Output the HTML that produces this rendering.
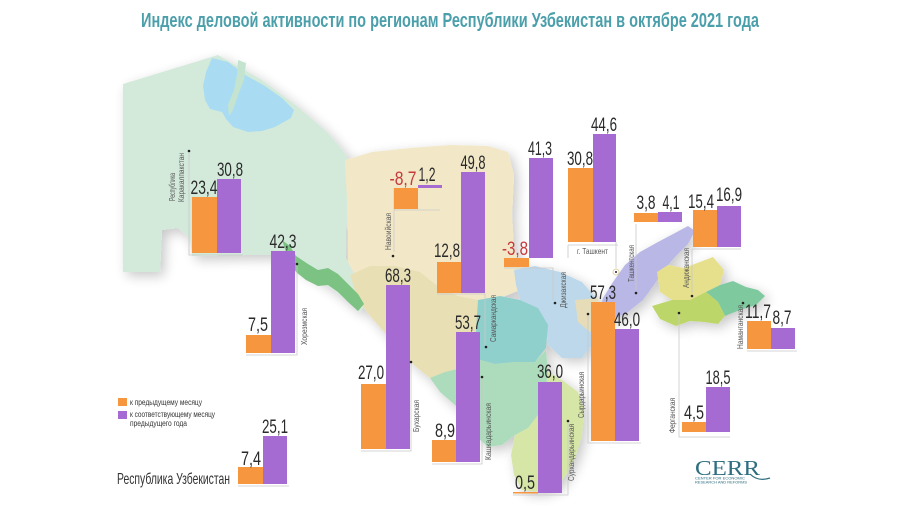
<!DOCTYPE html>
<html><head><meta charset="utf-8"><style>
html,body{margin:0;padding:0;background:#fff;}
svg{display:block;}
text{font-family:"Liberation Sans Narrow","Liberation Sans",sans-serif;}
.o{fill:#f6963f}.p{fill:#a66bd2}
.n{font-size:19px;fill:#2a2a2a;text-anchor:middle}
.r{fill:#c8393b}
.v{font-size:8.5px;fill:#555}
.ln{stroke:#c9c9c9;stroke-width:0.8;fill:none}
.d{fill:#222}
</style></head><body>
<svg width="900" height="506" viewBox="0 0 900 506" xmlns="http://www.w3.org/2000/svg">
<defs>
<filter id="sh" x="-10%" y="-10%" width="120%" height="120%">
<feGaussianBlur in="SourceAlpha" stdDeviation="6"/>
<feOffset dx="4" dy="4"/>
<feComponentTransfer><feFuncA type="linear" slope="0.22"/></feComponentTransfer>
<feMerge><feMergeNode/><feMergeNode in="SourceGraphic"/></feMerge>
</filter>
</defs>
<rect width="900" height="506" fill="#fff"/>
<text x="450" y="27" text-anchor="middle" font-size="20" font-weight="bold" fill="#4a9faa" textLength="618" lengthAdjust="spacingAndGlyphs">Индекс деловой активности по регионам Республики Узбекистан в октябре 2021 года</text>

<g filter="url(#sh)">
<polygon fill="#d3eadb" points="123,84 218,55 262,80 297,106 327,132 345,153 350,165 347,200 346,258 358,283 368,302 360,312 346,300 330,287 315,278 300,270 290,260 278,255 245,255 192,256 190,238 178,228 162,230 160,272 123,272"/>
<polygon fill="#f2e8c8" points="345,160 372,152 410,148 450,145 488,146 508,152 514,175 512,215 514,250 524,268 520,290 500,298 478,300 455,296 440,290 420,275 395,268 370,268 355,275 348,262 347,200"/>
<polygon fill="#e8dfb5" points="350,275 370,266 395,266 420,272 440,288 458,296 478,300 482,330 476,355 462,372 445,380 430,378 415,366 400,350 385,333 370,316 358,300"/>
<polygon fill="#bcd8ea" points="514,270 535,266 560,272 582,282 596,298 594,320 592,345 582,358 562,358 548,345 546,325 538,308 520,300 516,285"/>
<polygon fill="#e6dcb8" points="575,300 598,298 602,325 590,332 578,322"/>
<polygon fill="#8fd0cc" points="478,300 500,296 520,300 538,308 548,325 546,348 535,362 515,362 495,364 480,360 476,330"/>
<polygon fill="#acdcbb" points="430,378 445,372 462,368 480,360 495,364 515,362 535,362 546,350 548,372 545,395 538,415 528,428 515,435 502,445 488,447 478,438 468,420 455,405 440,392"/>
<polygon fill="#d6e6a6" points="515,435 528,428 538,415 545,395 548,372 562,380 578,392 584,410 582,435 576,455 568,472 558,486 540,492 522,490 514,475 511,455"/>
<polygon fill="#b9b7e6" points="598,318 603,298 613,282 625,265 640,252 658,242 675,233 688,226 695,231 688,244 675,257 664,270 654,285 643,300 628,312 612,320"/>
<polygon fill="#e6e08c" points="657,272 668,265 684,268 700,262 713,257 724,270 720,285 706,292 690,300 672,300 660,292"/>
<polygon fill="#7fc99f" points="706,292 720,285 733,281 746,287 758,290 765,296 756,305 740,310 725,316 718,302"/>
<polygon fill="#bdd66b" points="652,306 672,300 690,300 706,292 718,302 725,316 718,324 704,322 690,321 676,326 660,319"/>
</g>
<polygon fill="#a9dcf3" points="212,58 228,62 247,76 265,86 282,98 294,110 291,118 275,127 262,131 248,132 233,127 226,119 222,112 210,109 205,100 203,86 206,72"/>
<polygon fill="#c4e4cf" points="238,60 246,63 244,80 238,95 233,110 229,116 228,105 234,90 237,75"/>
<polygon fill="#7cc283" points="282,240 290,246 296,256 308,264 318,270 328,268 338,274 348,284 358,294 364,304 358,311 348,302 338,292 328,285 318,286 306,280 296,272 288,258"/>

<!-- frames -->
<path class="ln" d="M189,153 V255 H243"/>
<path class="ln" d="M246,355 H297 V264"/>
<path class="ln" d="M361,451 H411 V362"/>
<path class="ln" d="M394,210 H440 M394,188 V252"/>
<path class="ln" d="M437,294 H485 V345"/>
<path class="ln" d="M504,268 H553 V300"/>
<path class="ln" d="M568,245 H618 M568,245 V258 M616,242 V268"/>
<path class="ln" d="M636,224 V290"/>
<path class="ln" d="M692,249 H741 M692,249 V293"/>
<path class="ln" d="M747,351 H797"/>
<path class="ln" d="M679,313 V437 H730"/>
<path class="ln" d="M588,314 V443 H641"/>
<path class="ln" d="M432,464 H482 V377"/>
<path class="ln" d="M513,495 H568 V421"/>
<path class="ln" d="M238,486 H289"/>

<!-- bars -->
<rect class="o" x="192" y="197" width="25" height="56"/><rect class="p" x="217" y="179" width="24" height="74"/>
<rect class="o" x="246" y="335" width="25" height="18"/><rect class="p" x="271" y="251" width="24" height="102"/>
<rect class="o" x="361" y="384" width="25" height="65"/><rect class="p" x="386" y="285" width="24" height="164"/>
<rect class="o" x="394" y="188" width="24" height="21"/><rect class="p" x="418" y="185" width="24" height="3"/>
<rect class="o" x="437" y="262" width="24" height="31"/><rect class="p" x="461" y="172" width="24" height="121"/>
<rect class="o" x="504" y="258" width="25" height="9"/><rect class="p" x="529" y="158" width="24" height="100"/>
<rect class="o" x="432" y="440" width="24" height="22"/><rect class="p" x="456" y="332" width="24" height="130"/>
<rect class="o" x="513" y="492" width="25" height="1.5"/><rect class="p" x="538" y="382" width="24" height="111"/>
<rect class="o" x="568" y="168" width="25" height="74"/><rect class="p" x="593" y="134" width="23" height="108"/>
<rect class="o" x="591" y="302" width="24" height="139"/><rect class="p" x="615" y="329" width="24" height="112"/>
<rect class="o" x="634" y="213" width="24" height="9"/><rect class="p" x="658" y="212" width="24" height="10"/>
<rect class="o" x="693" y="210" width="24" height="37"/><rect class="p" x="717" y="206" width="24" height="41"/>
<rect class="o" x="682" y="422" width="24" height="10"/><rect class="p" x="706" y="387" width="24" height="45"/>
<rect class="o" x="747" y="321" width="24" height="28"/><rect class="p" x="771" y="328" width="24" height="21"/>
<rect class="o" x="238" y="467" width="25" height="17"/><rect class="p" x="263" y="436" width="24" height="48"/>

<!-- value labels -->
<g lengthAdjust="spacingAndGlyphs">
<text class="n" x="204" y="194" textLength="27" lengthAdjust="spacingAndGlyphs">23,4</text>
<text class="n" x="230" y="176" textLength="26" lengthAdjust="spacingAndGlyphs">30,8</text>
<text class="n" x="258" y="331" textLength="20" lengthAdjust="spacingAndGlyphs">7,5</text>
<text class="n" x="283" y="248" textLength="27" lengthAdjust="spacingAndGlyphs">42,3</text>
<text class="n" x="371" y="379" textLength="26" lengthAdjust="spacingAndGlyphs">27,0</text>
<text class="n" x="398" y="282" textLength="26" lengthAdjust="spacingAndGlyphs">68,3</text>
<text class="n r" x="403" y="185" textLength="27" lengthAdjust="spacingAndGlyphs">-8,7</text>
<text class="n" x="427" y="181" textLength="17" lengthAdjust="spacingAndGlyphs">1,2</text>
<text class="n" x="447" y="257" textLength="26" lengthAdjust="spacingAndGlyphs">12,8</text>
<text class="n" x="473" y="169" textLength="25" lengthAdjust="spacingAndGlyphs">49,8</text>
<text class="n r" x="515" y="255" textLength="26" lengthAdjust="spacingAndGlyphs">-3,8</text>
<text class="n" x="540" y="155" textLength="24" lengthAdjust="spacingAndGlyphs">41,3</text>
<text class="n" x="445" y="437" textLength="20" lengthAdjust="spacingAndGlyphs">8,9</text>
<text class="n" x="468" y="329" textLength="26" lengthAdjust="spacingAndGlyphs">53,7</text>
<text class="n" x="525" y="489" textLength="20" lengthAdjust="spacingAndGlyphs">0,5</text>
<text class="n" x="550" y="378" textLength="26" lengthAdjust="spacingAndGlyphs">36,0</text>
<text class="n" x="580" y="165" textLength="26" lengthAdjust="spacingAndGlyphs">30,8</text>
<text class="n" x="604" y="131" textLength="26" lengthAdjust="spacingAndGlyphs">44,6</text>
<text class="n" x="603" y="299" textLength="26" lengthAdjust="spacingAndGlyphs">57,3</text>
<text class="n" x="627" y="326" textLength="26" lengthAdjust="spacingAndGlyphs">46,0</text>
<text class="n" x="646" y="209" textLength="19" lengthAdjust="spacingAndGlyphs">3,8</text>
<text class="n" x="671" y="209" textLength="17" lengthAdjust="spacingAndGlyphs">4,1</text>
<text class="n" x="701" y="208" textLength="26" lengthAdjust="spacingAndGlyphs">15,4</text>
<text class="n" x="729" y="201" textLength="26" lengthAdjust="spacingAndGlyphs">16,9</text>
<text class="n" x="694" y="419" textLength="20" lengthAdjust="spacingAndGlyphs">4,5</text>
<text class="n" x="718" y="384" textLength="25" lengthAdjust="spacingAndGlyphs">18,5</text>
<text class="n" x="758" y="318" textLength="26" lengthAdjust="spacingAndGlyphs">11,7</text>
<text class="n" x="782" y="324" textLength="19" lengthAdjust="spacingAndGlyphs">8,7</text>
<text class="n" x="251" y="465" textLength="20" lengthAdjust="spacingAndGlyphs">7,4</text>
<text class="n" x="275" y="433" textLength="26" lengthAdjust="spacingAndGlyphs">25,1</text>
</g>

<!-- region labels (vertical) -->
<text class="v" transform="translate(172,201) rotate(-90)" dy="3" textLength="28" lengthAdjust="spacingAndGlyphs">Республика</text>
<text class="v" transform="translate(181,202) rotate(-90)" dy="3" textLength="49" lengthAdjust="spacingAndGlyphs">Каракалпакстан</text>
<text class="v" transform="translate(388,250) rotate(-90)" dy="3" textLength="37" lengthAdjust="spacingAndGlyphs">Навоийская</text>
<text class="v" transform="translate(304,345) rotate(-90)" dy="3" textLength="37" lengthAdjust="spacingAndGlyphs">Хорезмская</text>
<text class="v" transform="translate(416,432) rotate(-90)" dy="3" textLength="32" lengthAdjust="spacingAndGlyphs">Бухарская</text>
<text class="v" transform="translate(493,342) rotate(-90)" dy="3" textLength="47" lengthAdjust="spacingAndGlyphs">Самаркандская</text>
<text class="v" transform="translate(488,460) rotate(-90)" dy="3" textLength="57" lengthAdjust="spacingAndGlyphs">Кашкадарьинская</text>
<text class="v" transform="translate(563,308) rotate(-90)" dy="3" textLength="36" lengthAdjust="spacingAndGlyphs">Джизакская</text>
<text class="v" transform="translate(571,481) rotate(-90)" dy="3" textLength="57" lengthAdjust="spacingAndGlyphs">Сурхандарьинская</text>
<text class="v" transform="translate(581,418) rotate(-90)" dy="3" textLength="46" lengthAdjust="spacingAndGlyphs">Сырдарьинская</text>
<text class="v" transform="translate(631,282) rotate(-90)" dy="3" textLength="37" lengthAdjust="spacingAndGlyphs">Ташкентская</text>
<text class="v" transform="translate(686,288) rotate(-90)" dy="3" textLength="40" lengthAdjust="spacingAndGlyphs">Андижанская</text>
<text class="v" transform="translate(740,349) rotate(-90)" dy="3" textLength="44" lengthAdjust="spacingAndGlyphs">Наманганская</text>
<text class="v" transform="translate(672,433) rotate(-90)" dy="3" textLength="35" lengthAdjust="spacingAndGlyphs">Ферганская</text>
<text class="v" x="577" y="254" textLength="31" lengthAdjust="spacingAndGlyphs">г. Ташкент</text>

<!-- dots -->
<circle class="d" cx="189" cy="151" r="1.3"/><circle class="d" cx="393" cy="256" r="1.3"/>
<circle class="d" cx="297" cy="264" r="1.3"/><circle class="d" cx="411" cy="362" r="1.3"/>
<circle class="d" cx="486" cy="347" r="1.3"/><circle class="d" cx="555" cy="303" r="1.3"/>
<circle cx="616" cy="272" r="3" fill="#fff" stroke="#d8c890" stroke-width="0.8"/><circle class="d" cx="616" cy="272" r="1"/>
<circle class="d" cx="636" cy="293" r="1.3"/><circle class="d" cx="692" cy="296" r="1.3"/>
<circle class="d" cx="743" cy="303" r="1.3"/><circle class="d" cx="679" cy="313" r="1.3"/>
<circle class="d" cx="588" cy="314" r="1.3"/><circle class="d" cx="482" cy="377" r="1.3"/>
<circle class="d" cx="568" cy="421" r="1.3"/>

<!-- legend -->
<rect class="o" x="118" y="398" width="9" height="8"/>
<text x="130" y="405" font-size="8" fill="#333" textLength="72" lengthAdjust="spacingAndGlyphs">к предыдущему месяцу</text>
<rect class="p" x="118" y="411" width="9" height="8"/>
<text x="130" y="417" font-size="8" fill="#333" textLength="85" lengthAdjust="spacingAndGlyphs">к соответствующему месяцу</text>
<text x="130" y="426" font-size="8" fill="#333" textLength="57" lengthAdjust="spacingAndGlyphs">предыдущего года</text>

<text x="117" y="484" font-size="16" fill="#333" textLength="113" lengthAdjust="spacingAndGlyphs">Республика Узбекистан</text>

<!-- CERR logo -->
<text x="695" y="475" font-family="Liberation Serif, serif" font-size="21" fill="#2e6e80" textLength="65" lengthAdjust="spacingAndGlyphs" style="font-family:'Liberation Serif',serif">CERR</text>
<path d="M750,474 Q758,482 770,478" stroke="#2e6e80" stroke-width="1.2" fill="none"/>
<text x="695" y="479.5" font-size="3.6" fill="#2e6e80" textLength="50" lengthAdjust="spacingAndGlyphs">CENTER FOR ECONOMIC</text>
<text x="695" y="483.5" font-size="3.6" fill="#2e6e80" textLength="52" lengthAdjust="spacingAndGlyphs">RESEARCH AND REFORMS</text>
</svg>
</body></html>
